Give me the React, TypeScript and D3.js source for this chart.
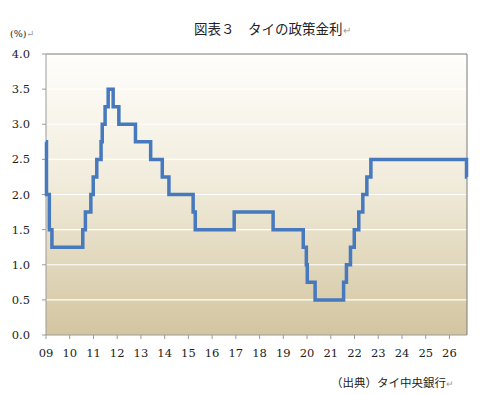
import React from "react";
import * as d3 from "d3";

// chart-axis position (fractional year) where each rate starts
const stepDates = [
  2009.0, 2009.02, 2009.14, 2009.25, 2010.55, 2010.66, 2010.89, 2010.99, 2011.14,
  2011.32, 2011.37, 2011.49, 2011.62, 2011.83, 2012.07, 2012.77, 2013.41, 2013.9,
  2014.18, 2015.2, 2015.29, 2016.93, 2018.57, 2019.84, 2019.97, 2020.01, 2020.34,
  2021.54, 2021.66, 2021.83, 2021.99, 2022.18, 2022.35, 2022.52, 2022.69, 2026.72,
];
const rates = [
  2.75, 2.0, 1.5, 1.25, 1.5, 1.75, 2.0, 2.25, 2.5,
  2.75, 3.0, 3.25, 3.5, 3.25, 3.0, 2.75, 2.5, 2.25,
  2.0, 1.75, 1.5, 1.75, 1.5, 1.25, 1.0, 0.75, 0.5,
  0.75, 1.0, 1.25, 1.5, 1.75, 2.0, 2.25, 2.5, 2.25,
];
const endDate = 2026.74;
const yTicks = [0, 0.5, 1, 1.5, 2, 2.5, 3, 3.5, 4];
const xTickYears = d3.range(2009, 2027);

const W = 480;
const H = 395;
const m = { left: 46, right: 13, top: 54, bottom: 60 };

const numFont = "'DejaVu Serif', serif";
const jpFont = "'Noto Sans CJK JP', sans-serif";

export default function App() {
  const x = d3.scaleLinear().domain([2009, endDate]).range([m.left, W - m.right]);
  const y = d3.scaleLinear().domain([0, 4]).range([H - m.bottom, m.top]);

  const pts: [number, number][] = stepDates.map((d, i) => [d, rates[i]]);
  pts.push([endDate, rates[rates.length - 1]]);
  const line = d3
    .line<[number, number]>()
    .x((d) => x(d[0]))
    .y((d) => y(d[1]))
    .curve(d3.curveStepAfter);

  const x0 = x.range()[0];
  const x1 = x.range()[1];
  const yb = y(0);
  const yt = y(4);

  return (
    <svg
      width={W}
      height={H}
      style={{ position: "absolute", left: 0, top: 0, background: "#fff" }}
    >
      <defs>
        <linearGradient id="bg" x1="0" y1="0" x2="0" y2="1">
          <stop offset="0%" stopColor="#fffefb" />
          <stop offset="45%" stopColor="#f1ecdc" />
          <stop offset="100%" stopColor="#d3c5a0" />
        </linearGradient>
      </defs>

      <text x={194} y={34} fontFamily={jpFont} fontSize={13.5} fill="#222">
        図表３　タイの政策金利
        <tspan fill="#999" fontSize={10}>↵</tspan>
      </text>
      <text x={10} y={37} fontFamily={numFont} fontSize={9.5} fill="#222">
        (%)<tspan fill="#999">↵</tspan>
      </text>

      <rect x={x0} y={yt} width={x1 - x0} height={yb - yt} fill="url(#bg)" />

      {yTicks.slice(1, -1).map((t) => (
        <line key={t} x1={x0} x2={x1} y1={y(t)} y2={y(t)} stroke="#fff" strokeWidth={1.2} />
      ))}

      {/* frame */}
      <line x1={x0} x2={x1} y1={yt} y2={yt} stroke="#7a7a7a" />
      <line x1={x1} x2={x1} y1={yt} y2={yb} stroke="#7a7a7a" />
      <line x1={x0} x2={x0} y1={yt} y2={yb} stroke="#9a9a9a" />
      <line x1={x0} x2={x1} y1={yb} y2={yb} stroke="#9a9a9a" />

      {yTicks.map((t) => (
        <g key={t}>
          <line x1={x0 - 4} x2={x0} y1={y(t)} y2={y(t)} stroke="#9a9a9a" />
          <text
            x={30}
            y={y(t)}
            dy="0.35em"
            textAnchor="end"
            fontFamily={numFont}
            fontSize={11.5}
            fill="#222"
          >
            {t.toFixed(1)}
          </text>
        </g>
      ))}

      {xTickYears.map((yr) => (
        <g key={yr}>
          <line x1={x(yr)} x2={x(yr)} y1={yb} y2={yb + 4} stroke="#9a9a9a" />
          <text
            x={x(yr)}
            y={yb + 22}
            textAnchor="middle"
            fontFamily={numFont}
            fontSize={11.5}
            fill="#222"
          >
            {String(yr % 100).padStart(2, "0")}
          </text>
        </g>
      ))}

      <path
        d={line(pts) || ""}
        fill="none"
        stroke="#4679bd"
        strokeWidth={3.5}
        strokeLinejoin="miter"
      />

      <text x={331} y={387} fontFamily={jpFont} fontSize={11.5} fill="#222">
        （出典）タイ中央銀行
        <tspan fill="#999" fontSize={9}>↵</tspan>
      </text>
    </svg>
  );
}
